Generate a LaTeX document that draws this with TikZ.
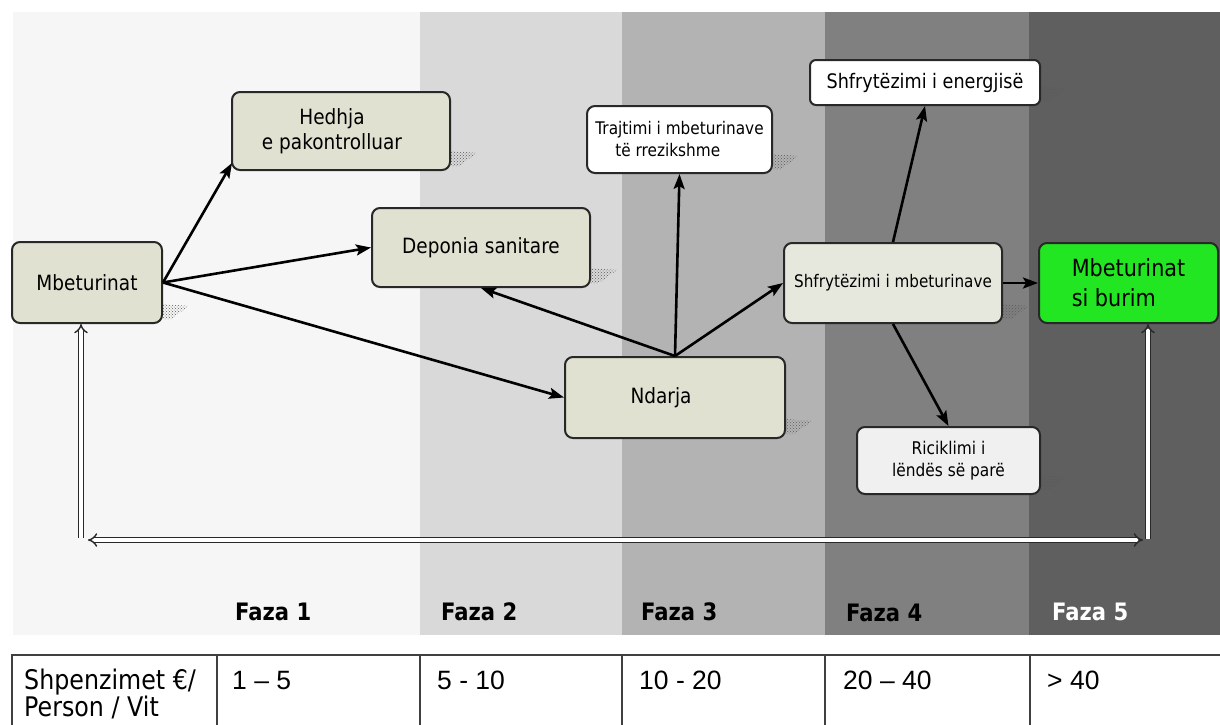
\documentclass[tikz,border=0pt]{standalone}
\usepackage{fontspec}
\setmainfont{DejaVu Sans}[FakeStretch=0.88]
\newfontfamily\arialf{Liberation Sans}
\usetikzlibrary{arrows.meta,patterns,calc}
\definecolor{bandA}{RGB}{246,246,246}
\definecolor{bandB}{RGB}{217,217,217}
\definecolor{bandC}{RGB}{179,179,179}
\definecolor{bandD}{RGB}{128,128,128}
\definecolor{bandE}{RGB}{95,95,95}
\definecolor{boxfill}{RGB}{224,225,208}
\definecolor{boxfillB}{RGB}{231,232,221}
\definecolor{greenbox}{RGB}{34,230,34}
\definecolor{ricfill}{RGB}{240,240,240}
\definecolor{edge}{RGB}{40,40,40}
\newcommand\shpatch[1]{\fill[pattern=crosshatch dots, pattern color=black!65] ($(#1.south east)+(0,-20)$) -- ++(26,2) -- ++(-18,13) -- ($(#1.south east)+(0,-5)$) -- cycle;}
\begin{document}
\begin{tikzpicture}[x=1pt,y=-1pt,
  box/.style={draw=edge, line width=2pt, rounded corners=8pt, inner sep=0pt, text=black},
  arr/.style={draw=black, line width=2.6pt, -{Stealth[length=15pt,width=11pt,inset=3pt]}},
  dbl/.style={draw=edge, line width=1.4pt, double=white, double distance=3.2pt},
  tbl/.style={draw=black!75, line width=1.6pt},
  faza/.style={anchor=west, inner sep=0pt, font=\fontsize{24}{28}\selectfont\bfseries},
  cell/.style={anchor=west, inner sep=0pt, font=\arialf\fontsize{26.5}{28}\selectfont}]
\useasboundingbox (0,0) rectangle (1220,724);
\fill[white] (0,0) rectangle (1220,724);
\begin{scope}
\clip (0,0) rectangle (1220,724);
\fill[bandA] (13,12) rectangle (420,635);
\fill[bandB] (420,12) rectangle (622,635);
\fill[bandC] (622,12) rectangle (825,635);
\fill[bandD] (825,12) rectangle (1029,635);
\fill[bandE] (1029,12) rectangle (1220,635);
\draw[tbl] (1230,655) -- (12,655) -- (12,735);
\foreach \x in {217,420,622,825,1030} \draw[tbl] (\x,655) -- (\x,735);
\end{scope}
% phase labels
\node[faza] (f1) at (235,612) {Faza 1};
\node[faza] (f2) at (441,612) {Faza 2};
\node[faza] (f3) at (641,612) {Faza 3};
\node[faza] (f4) at (846,613) {Faza 4};
\node[faza, text=white] (f5) at (1052,612) {Faza 5};
% table texts
\node[anchor=north west, inner sep=0pt, align=left, font=\fontsize{27}{26}\selectfont] (cost) at (24,669) {Shpenzimet €/\\Person / Vit};
\node[cell] (c1) at (232,680) {1 – 5};
\node[cell] (c2) at (437,680) {5 - 10};
\node[cell] (c3) at (639,680) {10 - 20};
\node[cell] (c4) at (843,680) {20 – 40};
\node[cell] (c5) at (1047,680) {> 40};
% nodes
\coordinate (p-mb) at (87,282.5);
\coordinate (p-hed) at (341,131);
\coordinate (p-dep) at (481,247.5);
\coordinate (p-tra) at (679.5,139.5);
\coordinate (p-nda) at (675,397.5);
\coordinate (p-shm) at (893,283);
\coordinate (p-grn) at (1128.5,283);
\coordinate (p-ene) at (925,82.5);
\coordinate (p-ric) at (948.5,460.5);
\node[box, fill=boxfill, minimum width=150pt, minimum height=81pt, font=\fontsize{21}{25}\selectfont] (mb) at (p-mb) {Mbeturinat};
\node[box, fill=boxfill, minimum width=218pt, minimum height=78pt, align=center, font=\fontsize{21}{25}\selectfont] (hed) at (p-hed) {Hedhja\hspace*{18pt}\\e pakontrolluar\hspace*{18pt}};
\node[box, fill=boxfill, minimum width=218pt, minimum height=79pt, font=\fontsize{21}{25}\selectfont] (dep) at (p-dep) {Deponia sanitare};
\node[box, fill=white, minimum width=185pt, minimum height=67pt, align=left, font=\fontsize{17.4}{22}\selectfont] (tra) at (p-tra) {Trajtimi i mbeturinave\\\hspace*{20pt}të rrezikshme};
\node[box, fill=boxfill, minimum width=220pt, minimum height=81pt, font=\fontsize{21}{25}\selectfont] (nda) at (p-nda) {Ndarja\hspace*{28pt}};
\node[box, fill=boxfillB, minimum width=218pt, minimum height=80pt, font=\fontsize{17.3}{22}\selectfont] (shm) at (p-shm) {Shfrytëzimi i mbeturinave};
\node[box, fill=greenbox, minimum width=179pt, minimum height=80pt, align=left, font=\fontsize{23.6}{30}\selectfont] (grn) at (p-grn) {Mbeturinat\\si burim};
\node[box, rounded corners=6pt, fill=white, minimum width=230pt, minimum height=45pt, font=\fontsize{20}{24}\selectfont] (ene) at (p-ene) {Shfrytëzimi i energjisë};
\node[box, fill=ricfill, minimum width=183pt, minimum height=67pt, align=center, font=\fontsize{17.5}{22}\selectfont] (ric) at (p-ric) {Riciklimi i\\lëndës së parë};
% shadow patches
\shpatch{mb}
\shpatch{hed}
\shpatch{dep}
\shpatch{tra}
\shpatch{nda}
\shpatch{shm}
\shpatch{ene}
\shpatch{ric}
% arrows
\draw[arr] (mb.east) -- ($(hed.south west)+(1,-8)$);
\draw[arr] (mb.east) -- (dep.west);
\draw[arr] (mb.east) -- (nda.west);
\draw[arr] (nda.north) -- (dep.south);
\draw[arr] (nda.north) -- (tra.south);
\draw[arr] (nda.north) -- (shm.west);
\draw[arr] (shm.north) -- (ene.south);
\draw[arr] (shm.south) -- (ric.north);
\draw[arr] (shm.east) -- (grn.west);
% double arrows
\coordinate (lb) at (81,538);
\coordinate (rb) at (1148,539);
\coordinate (hl) at (88,540);
\coordinate (hr) at (1143,540);
\draw[dbl,-{Implies}] (lb) -- (lb |- mb.south);
\draw[dbl,-{Implies}] (rb) -- (rb |- grn.south);
\draw[dbl,{Implies}-{Implies}] (hl) -- (hr);
\end{tikzpicture}
\end{document}
